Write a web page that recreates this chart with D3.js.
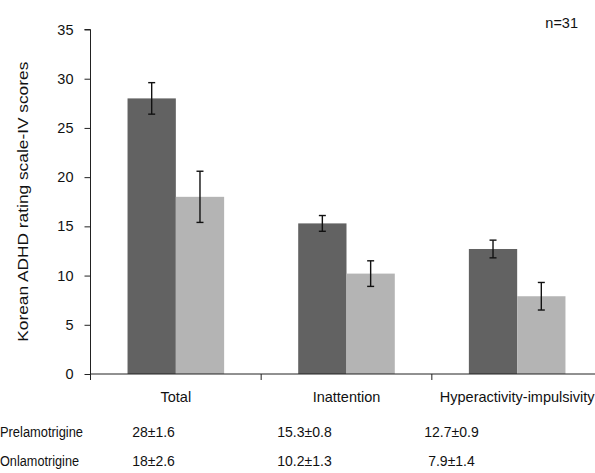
<!DOCTYPE html>
<html>
<head>
<meta charset="utf-8">
<script src="https://cdn.jsdelivr.net/npm/d3@7"></script>
<style>
  html, body { margin: 0; padding: 0; background: #fff; }
  svg { display: block; font-family: "Liberation Sans", Arial, Helvetica, sans-serif; }
</style>
</head>
<body>
<svg id="chart" width="595" height="473"></svg>
<script>
// Korean ADHD rating scale-IV scores before and during lamotrigine
const categories = ["Total", "Inattention", "Hyperactivity-impulsivity"];
const seriesNames = ["Prelamotrigine", "Onlamotrigine"];
const preMeans = [28, 15.3, 12.7];
const preErrors = [1.6, 0.8, 0.9];
const onMeans = [18, 10.2, 7.9];
const onErrors = [2.6, 1.3, 1.4];
const yTicks = [0, 5, 10, 15, 20, 25, 30, 35];
const sampleLabel = "n=31";
const yTitle = "Korean ADHD rating scale-IV scores";

// layout
const plotLeft = 90.5, plotRight = 602.5, plotTop = 29.5, plotBottom = 374;
const colors = ["#626262", "#b4b4b4"];
const tableColX = [153.5, 304.5, 451.5];
const tableRowY = [437, 466];
const rowLabelWidths = [83, 79];

const series = [
  { name: seriesNames[0], means: preMeans, errors: preErrors },
  { name: seriesNames[1], means: onMeans, errors: onErrors }
];

const svg = d3.select("#chart");

const y = d3.scaleLinear().domain([0, 35]).range([plotBottom, plotTop]);
const x0 = d3.scaleBand().domain(categories).range([plotLeft, plotRight])
  .paddingInner(0.434).paddingOuter(0.217);
const x1 = d3.scaleBand().domain(seriesNames).range([0, x0.bandwidth()]);

// bars
const groups = svg.append("g").selectAll("g")
  .data(categories)
  .join("g")
  .attr("transform", d => `translate(${x0(d)},0)`);

const cells = (c, i) => series.map((s, k) => ({ s: s.name, v: s.means[i], e: s.errors[i], k }));

groups.selectAll("rect")
  .data(cells)
  .join("rect")
  .attr("x", d => x1(d.s))
  .attr("width", x1.bandwidth())
  .attr("y", d => y(d.v))
  .attr("height", d => y(0) - y(d.v))
  .attr("fill", d => colors[d.k]);

// error bars
const eb = groups.selectAll("g.err")
  .data(cells)
  .join("g")
  .attr("class", "err")
  .attr("stroke", "#111")
  .attr("stroke-width", 1.4)
  .attr("fill", "none");
eb.append("line")
  .attr("x1", d => x1(d.s) + x1.bandwidth() / 2)
  .attr("x2", d => x1(d.s) + x1.bandwidth() / 2)
  .attr("y1", d => y(d.v + d.e))
  .attr("y2", d => y(d.v - d.e));
[1, -1].forEach(sign => {
  eb.append("line")
    .attr("x1", d => x1(d.s) + x1.bandwidth() / 2 - 3.5)
    .attr("x2", d => x1(d.s) + x1.bandwidth() / 2 + 3.5)
    .attr("y1", d => y(d.v + sign * d.e))
    .attr("y2", d => y(d.v + sign * d.e));
});

// y axis
const yAxis = svg.append("g")
  .attr("transform", `translate(${plotLeft},0)`)
  .call(d3.axisLeft(y).tickValues(yTicks).tickSize(6).tickPadding(11).tickFormat(d3.format("d")));
yAxis.select(".domain").attr("stroke", "#222").attr("d", `M-6,${plotTop}H0V${plotBottom}`);
yAxis.selectAll(".tick line").attr("stroke", "#222");
yAxis.selectAll(".tick text")
  .attr("fill", "#111")
  .style("font-size", "14.5px")
  .style("font-family", "'Liberation Sans', Arial, sans-serif");

// x axis with ticks at category boundaries
const xAxisG = svg.append("g");
xAxisG.append("line")
  .attr("x1", plotLeft).attr("x2", plotRight)
  .attr("y1", plotBottom).attr("y2", plotBottom)
  .attr("stroke", "#222");
const boundaries = categories.map(c => x0(c) - x0.step() * x0.paddingOuter()).concat([plotRight]);
xAxisG.selectAll("line.tick")
  .data(boundaries)
  .join("line")
  .attr("class", "tick")
  .attr("x1", d => d).attr("x2", d => d)
  .attr("y1", plotBottom).attr("y2", plotBottom + 6)
  .attr("stroke", "#222");
xAxisG.selectAll("text")
  .data(categories)
  .join("text")
  .attr("x", d => x0(d) + x0.bandwidth() / 2)
  .attr("y", 401.5)
  .attr("text-anchor", "middle")
  .attr("fill", "#111")
  .style("font-size", "14.5px")
  .text(d => d);

// y title
svg.append("text")
  .attr("transform", "translate(28.3,201.7) rotate(-90)")
  .attr("text-anchor", "middle")
  .attr("fill", "#111")
  .attr("textLength", 280)
  .attr("lengthAdjust", "spacingAndGlyphs")
  .style("font-size", "14.5px")
  .text(yTitle);

// sample size
svg.append("text")
  .attr("x", 578).attr("y", 28)
  .attr("text-anchor", "end")
  .attr("fill", "#111")
  .style("font-size", "14.5px")
  .text(sampleLabel);

// summary table below the chart
series.forEach((s, r) => {
  svg.append("text")
    .attr("x", 0).attr("y", tableRowY[r])
    .attr("fill", "#111")
    .attr("textLength", rowLabelWidths[r])
    .attr("lengthAdjust", "spacingAndGlyphs")
    .style("font-size", "14px")
    .text(s.name);
  s.means.forEach((m, i) => {
    svg.append("text")
      .attr("x", tableColX[i]).attr("y", tableRowY[r])
      .attr("text-anchor", "middle")
      .attr("fill", "#111")
      .style("font-size", "14px")
      .text(`${m}\u00b1${s.errors[i]}`);
  });
});
</script>
</body>
</html>
